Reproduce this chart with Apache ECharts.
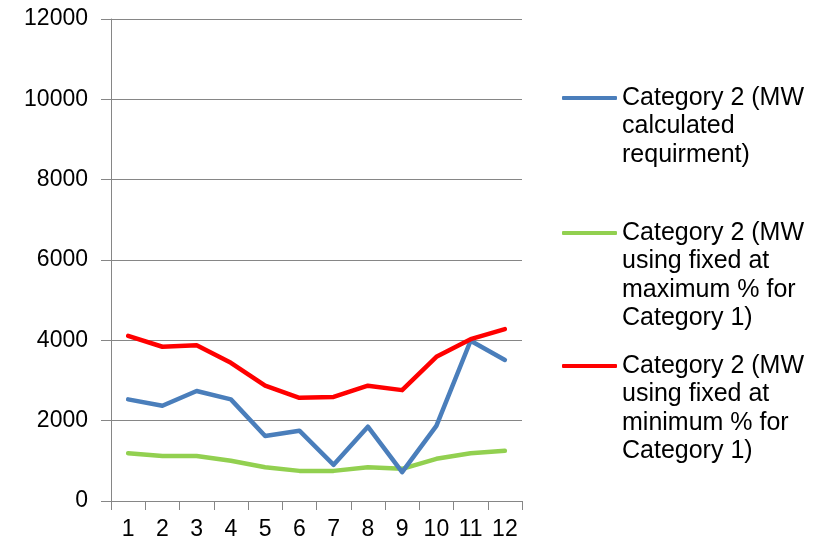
<!DOCTYPE html>
<html>
<head>
<meta charset="utf-8">
<script src="https://cdn.jsdelivr.net/npm/echarts@6/dist/echarts.min.js"></script>
<style>
  html, body { margin: 0; padding: 0; background: #fff; }
  #chart { width: 828px; height: 547px; }
</style>
</head>
<body>
<div id="chart"></div>
<script>
// Months 1..12 on the category axis
const months = ['1', '2', '3', '4', '5', '6', '7', '8', '9', '10', '11', '12'];

// Category 2 requirement in MW
const calculated = [2530, 2370, 2740, 2530, 1620, 1750, 900, 1850, 720, 1870, 3990, 3510];
const fixedAtMax = [1190, 1120, 1120, 1000, 840, 750, 750, 840, 800, 1050, 1190, 1250];
const fixedAtMin = [4110, 3840, 3880, 3440, 2870, 2570, 2590, 2870, 2760, 3590, 4030, 4280];

const seriesNames = [
  'Category 2 (MW calculated requirment)',
  'Category 2 (MW using fixed at maximum % for Category 1)',
  'Category 2 (MW using fixed at minimum % for Category 1)'
];
// Wrapped legend text, one entry per series
const legendLines = [
  ['Category 2 (MW', 'calculated', 'requirment)'],
  ['Category 2 (MW', 'using fixed at', 'maximum % for', 'Category 1)'],
  ['Category 2 (MW', 'using fixed at', 'minimum % for', 'Category 1)']
];

const colors = ['#4A7EBB', '#92D050', '#FF0000'];
const FONT = '"Liberation Sans", Arial, sans-serif';
const AXIS_GRAY = '#868686';
const LEGEND_LINE_H = 28.5;

// The legend icon sits beside the first text line: pad with blank lines
// above so that the middle of the block is the first line.
function legendText(lines) {
  return '\n'.repeat(lines.length - 1) + lines.join('\n');
}
// icon centre y for the first line of each legend entry
const legendFirstLineY = [98, 233, 366];

const legends = seriesNames.map((name, i) => {
  const total = legendLines[i].length * 2 - 1;
  return {
    data: [name],
    left: 562,
    top: legendFirstLineY[i] - (total * LEGEND_LINE_H) / 2,
    padding: 0,
    icon: 'roundRect',
    itemWidth: 55,
    itemHeight: 4,
    itemGap: 0,
    selectedMode: false,
    formatter: () => legendText(legendLines[i]),
    textStyle: {
      fontFamily: FONT,
      fontSize: 25,
      lineHeight: LEGEND_LINE_H,
      color: '#000'
    }
  };
});

const dataSets = [calculated, fixedAtMax, fixedAtMin];

const chart = echarts.init(document.getElementById('chart'), null, { renderer: 'canvas' });
chart.setOption({
  animation: false,
  backgroundColor: '#fff',
  color: colors,
  grid: { left: 111, right: 306, top: 19, bottom: 46, containLabel: false },
  legend: legends,
  xAxis: {
    type: 'category',
    data: months,
    boundaryGap: true,
    axisLine: { show: true, lineStyle: { color: AXIS_GRAY, width: 1 } },
    axisTick: { show: true, alignWithLabel: false, length: 9, lineStyle: { color: AXIS_GRAY } },
    axisLabel: { color: '#000', fontFamily: FONT, fontSize: 23, margin: 17, interval: 0 },
    splitLine: { show: false }
  },
  yAxis: {
    type: 'value',
    min: 0,
    max: 12000,
    interval: 2000,
    axisLine: { show: true, lineStyle: { color: AXIS_GRAY, width: 1 } },
    axisTick: { show: true, length: 10, lineStyle: { color: AXIS_GRAY } },
    axisLabel: {
      color: '#000', fontFamily: FONT, fontSize: 23, margin: 23,
      formatter: (v) => String(v)
    },
    splitLine: { show: true, lineStyle: { color: AXIS_GRAY, width: 1 } }
  },
  series: seriesNames.map((name, i) => ({
    name: name,
    type: 'line',
    data: dataSets[i],
    symbol: 'none',
    showSymbol: false,
    smooth: false,
    color: colors[i],
    itemStyle: { color: colors[i] },
    lineStyle: { color: colors[i], width: 4.5, cap: 'round', join: 'round' },
    z: [3, 2, 4][i]
  }))
});
</script>
</body>
</html>
